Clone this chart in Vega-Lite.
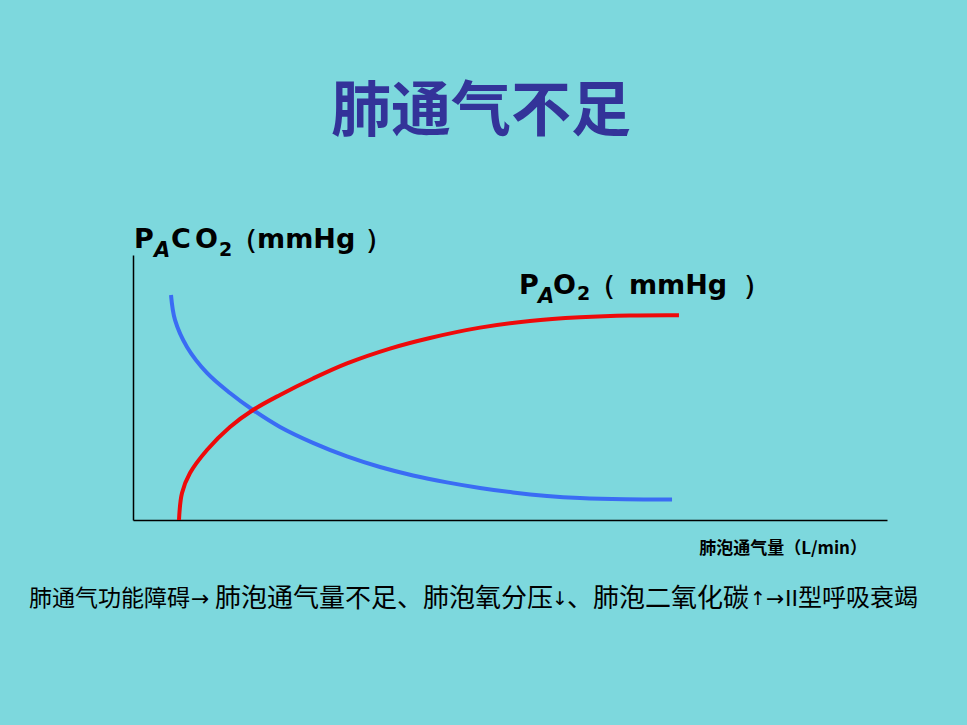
{
  "$schema": "https://vega.github.io/schema/vega-lite/v6.json",
  "width": 754,
  "height": 265,
  "autosize": {"type": "none"},
  "padding": {"left": 133, "top": 255, "right": 80, "bottom": 205},
  "background": "#7DD8DD",
  "config": {
    "view": {"stroke": null},
    "axis": {"domain": true, "domainColor": "#000000", "domainWidth": 1.5, "ticks": false, "labels": false, "grid": false, "title": null}
  },
  "encoding": {
    "x": {"field": "x", "type": "quantitative", "scale": {"domain": [0, 100], "nice": false}},
    "y": {"field": "y", "type": "quantitative", "scale": {"domain": [0, 100], "nice": false}}
  },
  "layer": [
    {
      "data": {"values": [
        {"series": "PACO2", "x": 5.04, "y": 84.9},
        {"series": "PACO2", "x": 5.57, "y": 75.5},
        {"series": "PACO2", "x": 7.16, "y": 65.3},
        {"series": "PACO2", "x": 9.81, "y": 55.5},
        {"series": "PACO2", "x": 12.86, "y": 47.9},
        {"series": "PACO2", "x": 15.92, "y": 41.5},
        {"series": "PACO2", "x": 19.5, "y": 35.1},
        {"series": "PACO2", "x": 23.87, "y": 29.1},
        {"series": "PACO2", "x": 28.38, "y": 24.0},
        {"series": "PACO2", "x": 32.76, "y": 20.0},
        {"series": "PACO2", "x": 37.14, "y": 16.8},
        {"series": "PACO2", "x": 41.64, "y": 14.2},
        {"series": "PACO2", "x": 46.02, "y": 12.1},
        {"series": "PACO2", "x": 50.4, "y": 10.4},
        {"series": "PACO2", "x": 54.91, "y": 9.1},
        {"series": "PACO2", "x": 59.28, "y": 8.3},
        {"series": "PACO2", "x": 65.25, "y": 7.8},
        {"series": "PACO2", "x": 71.49, "y": 7.7},
        {"series": "PAO2", "x": 6.1, "y": 0},
        {"series": "PAO2", "x": 6.5, "y": 10.2},
        {"series": "PAO2", "x": 7.56, "y": 17.7},
        {"series": "PAO2", "x": 9.81, "y": 26.4},
        {"series": "PAO2", "x": 12.86, "y": 35.1},
        {"series": "PAO2", "x": 15.92, "y": 41.5},
        {"series": "PAO2", "x": 19.5, "y": 47.2},
        {"series": "PAO2", "x": 23.87, "y": 53.4},
        {"series": "PAO2", "x": 28.38, "y": 59.1},
        {"series": "PAO2", "x": 34.08, "y": 64.7},
        {"series": "PAO2", "x": 39.39, "y": 68.7},
        {"series": "PAO2", "x": 46.02, "y": 72.6},
        {"series": "PAO2", "x": 52.65, "y": 75.1},
        {"series": "PAO2", "x": 59.28, "y": 76.5},
        {"series": "PAO2", "x": 65.92, "y": 77.2},
        {"series": "PAO2", "x": 72.41, "y": 77.3}
      ]},
      "mark": {"type": "line", "interpolate": "catmull-rom", "strokeWidth": 4},
      "encoding": {
        "color": {"field": "series", "type": "nominal", "scale": {"domain": ["PACO2", "PAO2"], "range": ["#3A6CF4", "#EE0A0A"]}, "legend": null}
      }
    },
    {
      "data": {"values": [
        {"t": "P", "x": 0.13, "y": 102.6},
        {"t": "C", "x": 5.04, "y": 102.6},
        {"t": "O", "x": 8.22, "y": 102.6},
        {"t": "（", "x": 13.0, "y": 102.6},
        {"t": "mmHg", "x": 16.45, "y": 102.6},
        {"t": "）", "x": 30.77, "y": 102.6},
        {"t": "P", "x": 51.19, "y": 85.3},
        {"t": "O", "x": 55.7, "y": 85.3},
        {"t": "（", "x": 60.48, "y": 85.3},
        {"t": "mmHg", "x": 65.78, "y": 85.3},
        {"t": "）", "x": 80.9, "y": 85.3}
      ]},
      "mark": {"type": "text", "font": "DejaVu Sans", "fontWeight": "bold", "fontSize": 27, "align": "left", "baseline": "alphabetic", "color": "#000000"},
      "encoding": {"text": {"field": "t"}}
    },
    {
      "data": {"values": [
        {"t": "A", "x": 2.79, "y": 99.2},
        {"t": "A", "x": 53.71, "y": 81.9}
      ]},
      "mark": {"type": "text", "font": "DejaVu Sans", "fontWeight": "bold", "fontStyle": "italic", "fontSize": 21, "align": "left", "baseline": "alphabetic", "color": "#000000"},
      "encoding": {"text": {"field": "t"}}
    },
    {
      "data": {"values": [
        {"t": "2", "x": 11.41, "y": 99.6},
        {"t": "2", "x": 58.89, "y": 83.0}
      ]},
      "mark": {"type": "text", "font": "DejaVu Sans", "fontWeight": "bold", "fontSize": 19, "align": "left", "baseline": "alphabetic", "color": "#000000"},
      "encoding": {"text": {"field": "t"}}
    },
    {
      "data": {"values": [{"t": "肺通气不足", "x": 46.15, "y": 153.6}]},
      "mark": {"type": "text", "font": "Noto Sans CJK SC", "fontWeight": "bold", "fontSize": 60, "align": "center", "baseline": "middle", "color": "#333399"},
      "encoding": {"text": {"field": "t"}}
    },
    {
      "data": {"values": [{"t": "肺泡通气量（L/min）", "x": 97.35, "y": -10.9}]},
      "mark": {"type": "text", "font": "Noto Sans CJK SC", "fontWeight": "bold", "fontSize": 17, "align": "right", "baseline": "middle", "color": "#000000"},
      "encoding": {"text": {"field": "t"}}
    },
    {
      "data": {"values": [{"t": "肺通气功能障碍", "x": -13.8, "y": -29.8}]},
      "mark": {"type": "text", "font": "Noto Sans CJK SC", "fontSize": 23, "align": "left", "baseline": "middle", "color": "#000000"},
      "encoding": {"text": {"field": "t"}}
    },
    {
      "data": {"values": [
        {"t": "肺泡通气量不足、肺泡氧分压", "x": 10.88, "y": -29.8},
        {"t": "、肺泡二氧化碳", "x": 57.56, "y": -29.8}
      ]},
      "mark": {"type": "text", "font": "Noto Sans CJK SC", "fontSize": 26, "align": "left", "baseline": "middle", "color": "#000000"},
      "encoding": {"text": {"field": "t"}}
    },
    {
      "data": {"values": [{"t": "型呼吸衰竭", "x": 88.2, "y": -29.8}]},
      "mark": {"type": "text", "font": "Noto Sans CJK SC", "fontSize": 24, "align": "left", "baseline": "middle", "color": "#000000"},
      "encoding": {"text": {"field": "t"}}
    },
    {
      "data": {"values": [
        {"t": "→", "x": 7.69, "y": -29.8},
        {"t": "→", "x": 83.95, "y": -29.8},
        {"t": "II", "x": 86.47, "y": -29.8}
      ]},
      "mark": {"type": "text", "font": "DejaVu Sans", "fontSize": 22, "align": "left", "baseline": "middle", "color": "#000000"},
      "encoding": {"text": {"field": "t"}}
    },
    {
      "data": {"values": [
        {"t": "↓", "x": 55.57, "y": -29.8},
        {"t": "↑", "x": 81.83, "y": -29.8}
      ]},
      "mark": {"type": "text", "font": "DejaVu Sans", "fontSize": 19, "align": "left", "baseline": "middle", "color": "#000000"},
      "encoding": {"text": {"field": "t"}}
    }
  ]
}
